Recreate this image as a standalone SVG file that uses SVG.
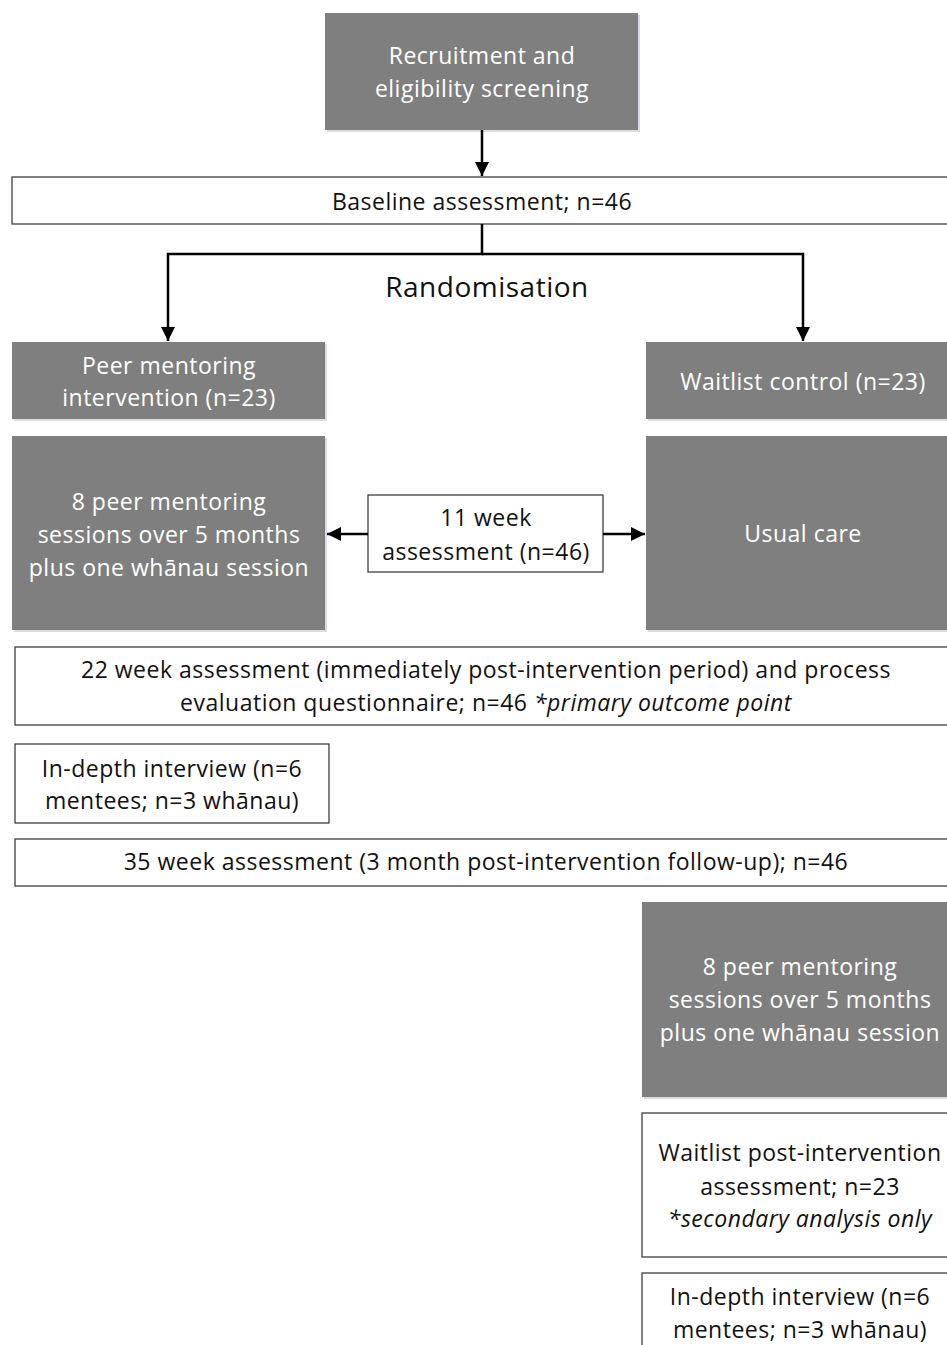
<svg xmlns="http://www.w3.org/2000/svg" width="947" height="1345" viewBox="0 0 947 1345">
<defs>
<style>
.dk{fill:#7f7f7f;}
.wh{fill:#ffffff;stroke:#3f3f3f;stroke-width:1.3;}
.sh{fill:#d9dde3;}
text{font-family:"Open Sans","Liberation Sans",sans-serif;font-size:23px;letter-spacing:0.5px;text-anchor:middle;}
.tw{fill:#ffffff;}
.tb{fill:#111111;}
.conn{stroke:#000;stroke-width:2.5;fill:none;}
</style>
<marker id="ah" viewBox="0 0 10 10" refX="10" refY="5" markerWidth="16" markerHeight="14" markerUnits="userSpaceOnUse" orient="auto">
<path d="M0,0 L10,5 L0,10 z" fill="#000"/>
</marker>
</defs>
<rect width="947" height="1345" fill="#ffffff"/>

<g id="n-recruit">
<rect class="sh" x="327" y="15" width="313" height="117"/>
<rect class="dk" x="325" y="13" width="313" height="117"/>
<text class="tw" x="482" y="64">Recruitment and</text>
<text class="tw" x="482" y="97">eligibility screening</text>
</g>

<g id="n-baseline">
<rect class="wh" x="12" y="177" width="940" height="47"/>
<text class="tb" x="482" y="210">Baseline assessment; n=46</text>
</g>

<g id="n-random">
<text class="tb" x="487" y="297" style="font-size:28px">Randomisation</text>
</g>

<g id="n-peer">
<rect class="sh" x="14" y="344" width="313" height="77"/>
<rect class="dk" x="12" y="342" width="313" height="77"/>
<text class="tw" x="169" y="374">Peer mentoring</text>
<text class="tw" x="169" y="406">intervention (n=23)</text>
</g>

<g id="n-waitlist">
<rect class="sh" x="648" y="344" width="305" height="77"/>
<rect class="dk" x="646" y="342" width="305" height="77"/>
<text class="tw" x="803" y="390">Waitlist control (n=23)</text>
</g>

<g id="n-sessions">
<rect class="sh" x="14" y="438" width="313" height="194"/>
<rect class="dk" x="12" y="436" width="313" height="194"/>
<text class="tw" x="169" y="510">8 peer mentoring</text>
<text class="tw" x="169" y="543">sessions over 5 months</text>
<text class="tw" x="169" y="576">plus one whānau session</text>
</g>

<g id="n-usual">
<rect class="sh" x="648" y="438" width="305" height="194"/>
<rect class="dk" x="646" y="436" width="305" height="194"/>
<text class="tw" x="803" y="542">Usual care</text>
</g>

<g id="n-11week">
<rect class="wh" x="368" y="495" width="235" height="77"/>
<text class="tb" x="486" y="526">11 week</text>
<text class="tb" x="486" y="560">assessment (n=46)</text>
</g>

<g id="n-22week">
<rect class="wh" x="15" y="647" width="940" height="78"/>
<text class="tb" x="486" y="678">22 week assessment (immediately post-intervention period) and process</text>
<text class="tb" x="486" y="711">evaluation questionnaire; n=46 <tspan font-style="italic">*primary outcome point</tspan></text>
</g>

<g id="n-interview1">
<rect class="wh" x="15" y="744" width="314" height="79"/>
<text class="tb" x="172" y="777">In-depth interview (n=6</text>
<text class="tb" x="172" y="809">mentees; n=3 whānau)</text>
</g>

<g id="n-35week">
<rect class="wh" x="15" y="839" width="940" height="47"/>
<text class="tb" x="486" y="870">35 week assessment (3 month post-intervention follow-up); n=46</text>
</g>

<g id="n-sessions2">
<rect class="sh" x="644" y="904" width="310" height="195"/>
<rect class="dk" x="642" y="902" width="310" height="195"/>
<text class="tw" x="800" y="975">8 peer mentoring</text>
<text class="tw" x="800" y="1008">sessions over 5 months</text>
<text class="tw" x="800" y="1041">plus one whānau session</text>
</g>

<g id="n-waitpost">
<rect class="wh" x="642" y="1113" width="310" height="144"/>
<text class="tb" x="800" y="1161">Waitlist post-intervention</text>
<text class="tb" x="800" y="1195">assessment; n=23</text>
<text class="tb" x="800" y="1227" font-style="italic">*secondary analysis only</text>
</g>

<g id="n-interview2">
<rect class="wh" x="642" y="1273" width="310" height="90"/>
<text class="tb" x="800" y="1305">In-depth interview (n=6</text>
<text class="tb" x="800" y="1338">mentees; n=3 whānau)</text>
</g>

<g id="connectors">
<line class="conn" x1="482" y1="130" x2="482" y2="176" marker-end="url(#ah)"/>
<polyline class="conn" points="482,224 482,254 168,254 168,341" marker-end="url(#ah)"/>
<polyline class="conn" points="482,254 803,254 803,341" marker-end="url(#ah)"/>
<line class="conn" x1="368" y1="534" x2="327" y2="534" marker-end="url(#ah)"/>
<line class="conn" x1="603" y1="534" x2="645" y2="534" marker-end="url(#ah)"/>
</g>
</svg>
